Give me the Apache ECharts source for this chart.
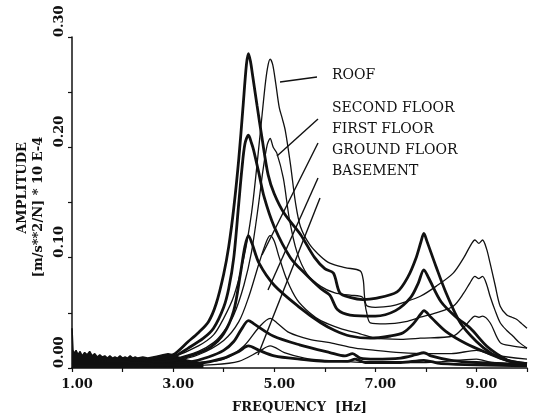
<!DOCTYPE html>
<html>
<head>
<meta charset="utf-8">
<script src="https://cdn.jsdelivr.net/npm/echarts@6/dist/echarts.min.js"></script>
<style>
  html, body { margin: 0; padding: 0; background: #fff; }
  #chart { width: 535px; height: 419px; }
</style>
</head>
<body>
<div id="chart"></div>
<script>
// tick labels
const xTicks = [1, 3, 5, 7, 9]
const yTicks = [0, 0.1, 0.2, 0.3]
const labels = ['ROOF', 'SECOND FLOOR', 'FIRST FLOOR', 'GROUND FLOOR', 'BASEMENT']

// low frequency noise band (upper envelope), [Hz, amplitude]
const noise = [
    [1.00, 0.036], [1.02, 0.016], [1.05, 0.013], [1.08, 0.016], [1.12, 0.012],
    [1.16, 0.015], [1.20, 0.011], [1.25, 0.014], [1.30, 0.012], [1.35, 0.015],
    [1.40, 0.011], [1.45, 0.013], [1.50, 0.010], [1.55, 0.012], [1.60, 0.010],
    [1.65, 0.011], [1.70, 0.009], [1.75, 0.011], [1.80, 0.009], [1.85, 0.010],
    [1.90, 0.009], [1.95, 0.011], [2.00, 0.009], [2.05, 0.010], [2.10, 0.009],
    [2.15, 0.011], [2.20, 0.009], [2.25, 0.010], [2.30, 0.009], [2.40, 0.010],
    [2.50, 0.009], [2.60, 0.010], [2.70, 0.011], [2.80, 0.012], [2.90, 0.013],
    [3.00, 0.012], [3.10, 0.010], [3.20, 0.008], [3.40, 0.006], [3.60, 0.004]
]

// thick curves: direction 1 (peaks ~4.5 Hz and ~8 Hz)
const roofA = [
    [1.0, 0.006], [2.0, 0.005], [2.6, 0.007], [3.0, 0.012], [3.3, 0.024], [3.5, 0.032],
    [3.7, 0.042], [3.85, 0.058], [4.0, 0.085], [4.1, 0.11], [4.2, 0.145], [4.3, 0.19],
    [4.38, 0.235], [4.45, 0.275], [4.49, 0.285], [4.53, 0.278], [4.57, 0.266],
    [4.66, 0.238], [4.76, 0.208], [4.88, 0.175], [5.0, 0.158], [5.2, 0.14],
    [5.52, 0.121], [5.8, 0.1], [6.0, 0.09], [6.17, 0.086], [6.3, 0.068], [6.5, 0.064],
    [6.75, 0.062], [7.0, 0.063], [7.43, 0.069], [7.65, 0.083], [7.8, 0.099],
    [7.9, 0.114], [7.96, 0.122], [8.02, 0.115], [8.2, 0.092], [8.4, 0.068],
    [8.68, 0.041], [9.0, 0.024], [9.3, 0.013], [9.6, 0.007], [10.0, 0.004]
]
const secondA = [
    [1.0, 0.005], [2.0, 0.004], [2.6, 0.006], [3.0, 0.01], [3.3, 0.018], [3.6, 0.027],
    [3.8, 0.036], [4.0, 0.055], [4.1, 0.072], [4.2, 0.1], [4.3, 0.15], [4.36, 0.18],
    [4.42, 0.203], [4.49, 0.211], [4.55, 0.204], [4.59, 0.198], [4.69, 0.178],
    [4.8, 0.155], [5.0, 0.128], [5.32, 0.1], [5.6, 0.086], [5.92, 0.072], [6.1, 0.066],
    [6.25, 0.053], [6.5, 0.048], [7.0, 0.047], [7.4, 0.052], [7.7, 0.064],
    [7.85, 0.077], [7.96, 0.089], [8.05, 0.082], [8.3, 0.06], [8.6, 0.046],
    [8.88, 0.036], [9.2, 0.02], [9.5, 0.01], [9.72, 0.005], [10.0, 0.003]
]
const firstA = [
    [1.0, 0.004], [2.0, 0.004], [2.6, 0.005], [3.0, 0.007], [3.4, 0.012], [3.74, 0.019],
    [4.0, 0.031], [4.2, 0.052], [4.33, 0.085], [4.42, 0.11], [4.49, 0.12],
    [4.56, 0.113], [4.7, 0.095], [5.0, 0.075], [5.5, 0.055], [5.92, 0.041],
    [6.2, 0.034], [6.5, 0.029], [6.9, 0.027], [7.3, 0.029], [7.55, 0.032],
    [7.75, 0.04], [7.9, 0.049], [7.96, 0.052], [8.1, 0.046], [8.4, 0.033],
    [8.8, 0.022], [9.2, 0.014], [9.6, 0.007], [10.0, 0.004]
]
const groundA = [
    [1.0, 0.003], [2.0, 0.003], [3.0, 0.004], [3.3, 0.005], [3.7, 0.01], [4.0, 0.016],
    [4.2, 0.024], [4.35, 0.035], [4.49, 0.043], [4.6, 0.04], [4.98, 0.029],
    [5.5, 0.021], [6.1, 0.014], [6.4, 0.011], [6.55, 0.013], [6.7, 0.009],
    [7.0, 0.008], [7.5, 0.009], [7.8, 0.012], [7.96, 0.014], [8.1, 0.011],
    [8.5, 0.007], [9.0, 0.005], [10.0, 0.003]
]
const basementA = [
    [1.0, 0.002], [2.0, 0.002], [3.0, 0.003], [3.5, 0.004], [4.0, 0.009], [4.3, 0.015],
    [4.49, 0.02], [4.7, 0.016], [5.0, 0.011], [5.5, 0.008], [6.0, 0.006], [6.45, 0.006],
    [6.6, 0.008], [6.8, 0.005], [7.5, 0.005], [7.96, 0.007], [8.3, 0.004], [10.0, 0.002]
]

// thin curves: direction 2 (peaks ~4.9 Hz and ~9 Hz)
const roofB = [
    [1.0, 0.005], [2.0, 0.004], [2.6, 0.006], [3.0, 0.01], [3.5, 0.02], [3.8, 0.03],
    [4.0, 0.045], [4.2, 0.065], [4.4, 0.1], [4.55, 0.14], [4.65, 0.18], [4.75, 0.225],
    [4.83, 0.26], [4.88, 0.275], [4.92, 0.28], [4.97, 0.275], [5.03, 0.258],
    [5.1, 0.236], [5.16, 0.226], [5.22, 0.215], [5.32, 0.185], [5.42, 0.15],
    [5.52, 0.128], [5.7, 0.112], [5.92, 0.101], [6.1, 0.095], [6.4, 0.091],
    [6.7, 0.088], [6.76, 0.08], [6.82, 0.057], [7.0, 0.055], [7.3, 0.056],
    [7.6, 0.06], [7.89, 0.065], [8.2, 0.074], [8.54, 0.086], [8.75, 0.1],
    [8.87, 0.11], [8.97, 0.116], [9.05, 0.113], [9.12, 0.116], [9.2, 0.108],
    [9.27, 0.095], [9.37, 0.075], [9.47, 0.056], [9.6, 0.048], [9.7, 0.046],
    [9.8, 0.044], [9.9, 0.04], [10.0, 0.036]
]
const secondB = [
    [1.0, 0.004], [2.0, 0.004], [2.6, 0.005], [3.0, 0.008], [3.5, 0.015], [3.8, 0.023],
    [4.0, 0.033], [4.2, 0.048], [4.4, 0.075], [4.55, 0.105], [4.68, 0.145],
    [4.78, 0.18], [4.86, 0.202], [4.92, 0.208], [4.98, 0.2], [5.05, 0.195],
    [5.18, 0.172], [5.3, 0.135], [5.45, 0.105], [5.65, 0.085], [5.92, 0.074],
    [6.2, 0.068], [6.5, 0.066], [6.75, 0.064], [6.82, 0.052], [6.9, 0.041],
    [7.2, 0.04], [7.6, 0.042], [7.89, 0.046], [8.2, 0.05], [8.54, 0.056],
    [8.75, 0.068], [8.87, 0.077], [8.97, 0.083], [9.05, 0.081], [9.12, 0.083],
    [9.2, 0.076], [9.27, 0.065], [9.37, 0.052], [9.47, 0.041], [9.6, 0.034],
    [9.72, 0.029], [9.85, 0.023], [10.0, 0.018]
]
const firstB = [
    [1.0, 0.003], [2.0, 0.003], [2.6, 0.004], [3.0, 0.006], [3.5, 0.012], [4.0, 0.025],
    [4.3, 0.042], [4.5, 0.065], [4.7, 0.095], [4.85, 0.115], [4.92, 0.12],
    [5.0, 0.115], [5.1, 0.1], [5.25, 0.08], [5.45, 0.062], [5.7, 0.05], [5.92, 0.043],
    [6.3, 0.036], [6.7, 0.031], [7.0, 0.027], [7.5, 0.026], [7.89, 0.027],
    [8.54, 0.029], [8.75, 0.037], [8.87, 0.043], [8.97, 0.047], [9.05, 0.046],
    [9.12, 0.047], [9.27, 0.041], [9.47, 0.023], [9.7, 0.02], [10.0, 0.018]
]
const groundB = [
    [1.0, 0.003], [2.0, 0.002], [3.0, 0.003], [3.5, 0.005], [4.0, 0.008], [4.4, 0.02],
    [4.7, 0.037], [4.92, 0.045], [5.05, 0.041], [5.3, 0.032], [5.7, 0.026],
    [6.1, 0.023], [6.6, 0.018], [7.0, 0.016], [7.5, 0.014], [8.0, 0.013],
    [8.5, 0.013], [9.0, 0.016], [9.3, 0.012], [10.0, 0.008]
]
const basementB = [
    [1.0, 0.002], [2.0, 0.002], [3.0, 0.002], [3.8, 0.003], [4.3, 0.006], [4.7, 0.015],
    [4.92, 0.02], [5.2, 0.014], [5.6, 0.009], [6.0, 0.007], [7.0, 0.005], [8.0, 0.005],
    [9.0, 0.008], [9.3, 0.005], [10.0, 0.003]
]

const thick = [roofA, secondA, firstA, groundA, basementA]
const thin = [roofB, secondB, firstB, groundB, basementB]

const FONT = 'DejaVu Serif'

function draw() {
    const chart = echarts.init(document.getElementById('chart'), null, { renderer: 'canvas' })
    chart.setOption(getOptions())
}

function makeSeries(data, width) {
    return {
        type: 'line',
        data: data,
        symbol: 'none',
        smooth: 0.3,
        silent: true,
        lineStyle: { color: '#111', width: width },
        z: 3
    }
}

function getOptions() {
    const series = []
    series.push({
        type: 'line',
        data: noise,
        symbol: 'none',
        silent: true,
        lineStyle: { color: '#111', width: 1.5 },
        areaStyle: { color: '#111', opacity: 1 },
        z: 2
    })
    thin.forEach(d => series.push(makeSeries(d, 1.3)))
    thick.forEach(d => series.push(makeSeries(d, 2.8)))

    // label text + leader lines (pixel positions of annotations)
    const labelY = [76, 109, 130, 151, 172]
    const leaders = [
        [280, 82, 317, 77],
        [277, 156, 318, 119],
        [318, 143, 262, 255],
        [318, 178, 268, 290],
        [320, 198, 258, 355]
    ]
    const graphic = []
    labels.forEach((t, i) => {
        graphic.push({
            type: 'text', left: 332, top: labelY[i] - 8,
            style: { text: t, font: '14px "' + FONT + '"', fill: '#111' }
        })
    })
    leaders.forEach(l => {
        graphic.push({
            type: 'line',
            shape: { x1: l[0], y1: l[1], x2: l[2], y2: l[3] },
            style: { stroke: '#111', lineWidth: 1.4 }
        })
    })
    graphic.push({
        type: 'text', x: 23, y: 188, rotation: Math.PI / 2,
        style: { text: 'AMPLITUDE', font: 'bold 13px "' + FONT + '"', fill: '#111',
                 align: 'center', verticalAlign: 'middle' }
    })
    graphic.push({
        type: 'text', x: 39, y: 207, rotation: Math.PI / 2,
        style: { text: '[m/s**2/N] * 10 E-4', font: 'bold 13px "' + FONT + '"', fill: '#111',
                 align: 'center', verticalAlign: 'middle' }
    })

    return {
        animation: false,
        backgroundColor: '#fff',
        grid: { left: 72, right: 8, top: 37, bottom: 46, containLabel: false },
        xAxis: {
            type: 'value',
            min: 1, max: 10, interval: 1,
            name: 'FREQUENCY  [Hz]',
            nameLocation: 'middle',
            nameGap: 33,
            nameTextStyle: { fontFamily: FONT, fontSize: 13, fontWeight: 'bold', color: '#111' },
            axisLine: { onZero: false, lineStyle: { color: '#111', width: 1.5 } },
            axisTick: { show: true, length: 4, lineStyle: { color: '#111', width: 1.2 } },
            splitLine: { show: false },
            axisLabel: {
                margin: 10,
                padding: [0, 0, 0, 10],
                fontFamily: FONT, fontSize: 13, fontWeight: 'bold', color: '#111',
                formatter: v => xTicks.indexOf(v) >= 0 ? v.toFixed(2) : ''
            }
        },
        yAxis: {
            type: 'value',
            min: 0, max: 0.3, interval: 0.05,
            axisLine: { show: true, lineStyle: { color: '#111', width: 1.5 } },
            axisTick: { show: true, length: 4, lineStyle: { color: '#111', width: 1.2 } },
            splitLine: { show: false },
            axisLabel: {
                rotate: 90,
                margin: 12,
                align: 'left',
                verticalAlign: 'middle',
                fontFamily: FONT, fontSize: 13, fontWeight: 'bold', color: '#111',
                formatter: v => yTicks.some(t => Math.abs(t - v) < 1e-6) ? v.toFixed(2) : ''
            }
        },
        graphic: graphic,
        series: series
    }
}

draw()
</script>
</body>
</html>
